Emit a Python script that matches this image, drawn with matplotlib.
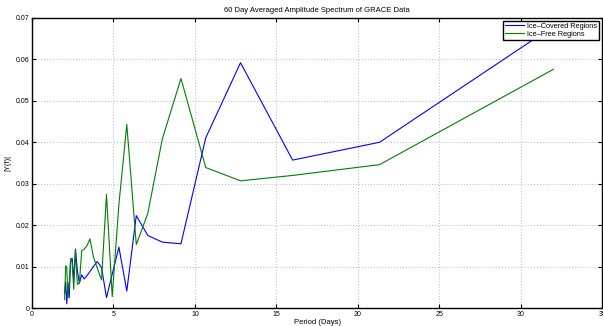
import matplotlib
matplotlib.use("Agg")
import matplotlib.pyplot as plt
from matplotlib.ticker import FixedLocator

plt.rcParams['font.family'] = ['Liberation Sans', 'DejaVu Sans']

# Periods (days) of the spectrum bins
periods = [32.0, 21.333, 16.0, 12.8, 10.667, 9.143, 8.0, 7.111, 6.4, 5.818,
           5.333, 4.923, 4.571, 4.267, 4.0, 3.765, 3.556, 3.368, 3.2, 3.048,
           2.909, 2.783, 2.667, 2.56, 2.462, 2.370, 2.286, 2.207, 2.133, 2.065, 2.0]

ice_covered = [0.068, 0.0400, 0.0357, 0.0592, 0.0411, 0.0155, 0.0159, 0.0175, 0.0223, 0.0041,
               0.0147, 0.0082, 0.0025, 0.0098, 0.0112, 0.0100, 0.0088, 0.0078, 0.0070, 0.0080,
               0.0060, 0.0090, 0.0142, 0.0068, 0.0120, 0.0118, 0.0025, 0.0060, 0.0010, 0.0063, 0.0035]

ice_free = [0.0576, 0.0346, 0.0320, 0.0307, 0.0339, 0.0554, 0.0408, 0.0229, 0.0153, 0.0443,
            0.0250, 0.0028, 0.0274, 0.0068, 0.0097, 0.0124, 0.0167, 0.0150, 0.0142, 0.0138,
            0.0060, 0.0057, 0.0138, 0.0045, 0.0110, 0.0118, 0.0060, 0.0025, 0.0098, 0.0102, 0.0020]

series_names = ["Ice\u2013Covered Regions", "Ice\u2013Free Regions"]
x_ticks = [0, 5, 10, 15, 20, 25, 30, 35]
x_tick_labels = ["0", "5", "10", "15", "20", "25", "30", "35"]
y_ticks = [0, 0.01, 0.02, 0.03, 0.04, 0.05, 0.06, 0.07]
y_tick_labels = ["0", "0.01", "0.02", "0.03", "0.04", "0.05", "0.06", "0.07"]

fig = plt.figure(figsize=(6.03, 3.26), dpi=100)
ax = fig.add_axes([0.0531, 0.0552, 0.9455, 0.8896])

ax.plot(periods, ice_covered, color=(0, 0, 1), lw=0.8, label=series_names[0])
ax.plot(periods, ice_free, color=(0, 0.5, 0), lw=0.8, label=series_names[1])

ax.set_xlim(0, 35)
ax.set_ylim(0, 0.07)
ax.xaxis.set_major_locator(FixedLocator(x_ticks))
ax.yaxis.set_major_locator(FixedLocator(y_ticks))
ax.set_xticklabels(x_tick_labels)
ax.set_yticklabels(y_tick_labels)

ax.tick_params(direction='in', length=3, width=0.8, labelsize=5, top=True, right=True,
               pad=2, colors='black')
for s in ax.spines.values():
    s.set_linewidth(1.0)

ax.grid(True, linestyle=(0, (1, 2.5)), color='#a0a0a0', linewidth=0.6)

ax.set_title("60 Day Averaged Amplitude Spectrum of GRACE Data", fontsize=5.5, pad=4)
ax.set_xlabel("Period (Days)", fontsize=5.5, labelpad=1)
ax.set_ylabel("|Y(f)|", fontsize=5.5, labelpad=3)

leg = ax.legend(loc='upper right', fontsize=5.3, frameon=True, fancybox=False,
                edgecolor='black', framealpha=1, handlelength=2.5, handletextpad=0.5,
                borderpad=0.25, labelspacing=0.1, borderaxespad=0.4)
leg.get_frame().set_linewidth(1.0)

fig.savefig("out.png", dpi=100)
